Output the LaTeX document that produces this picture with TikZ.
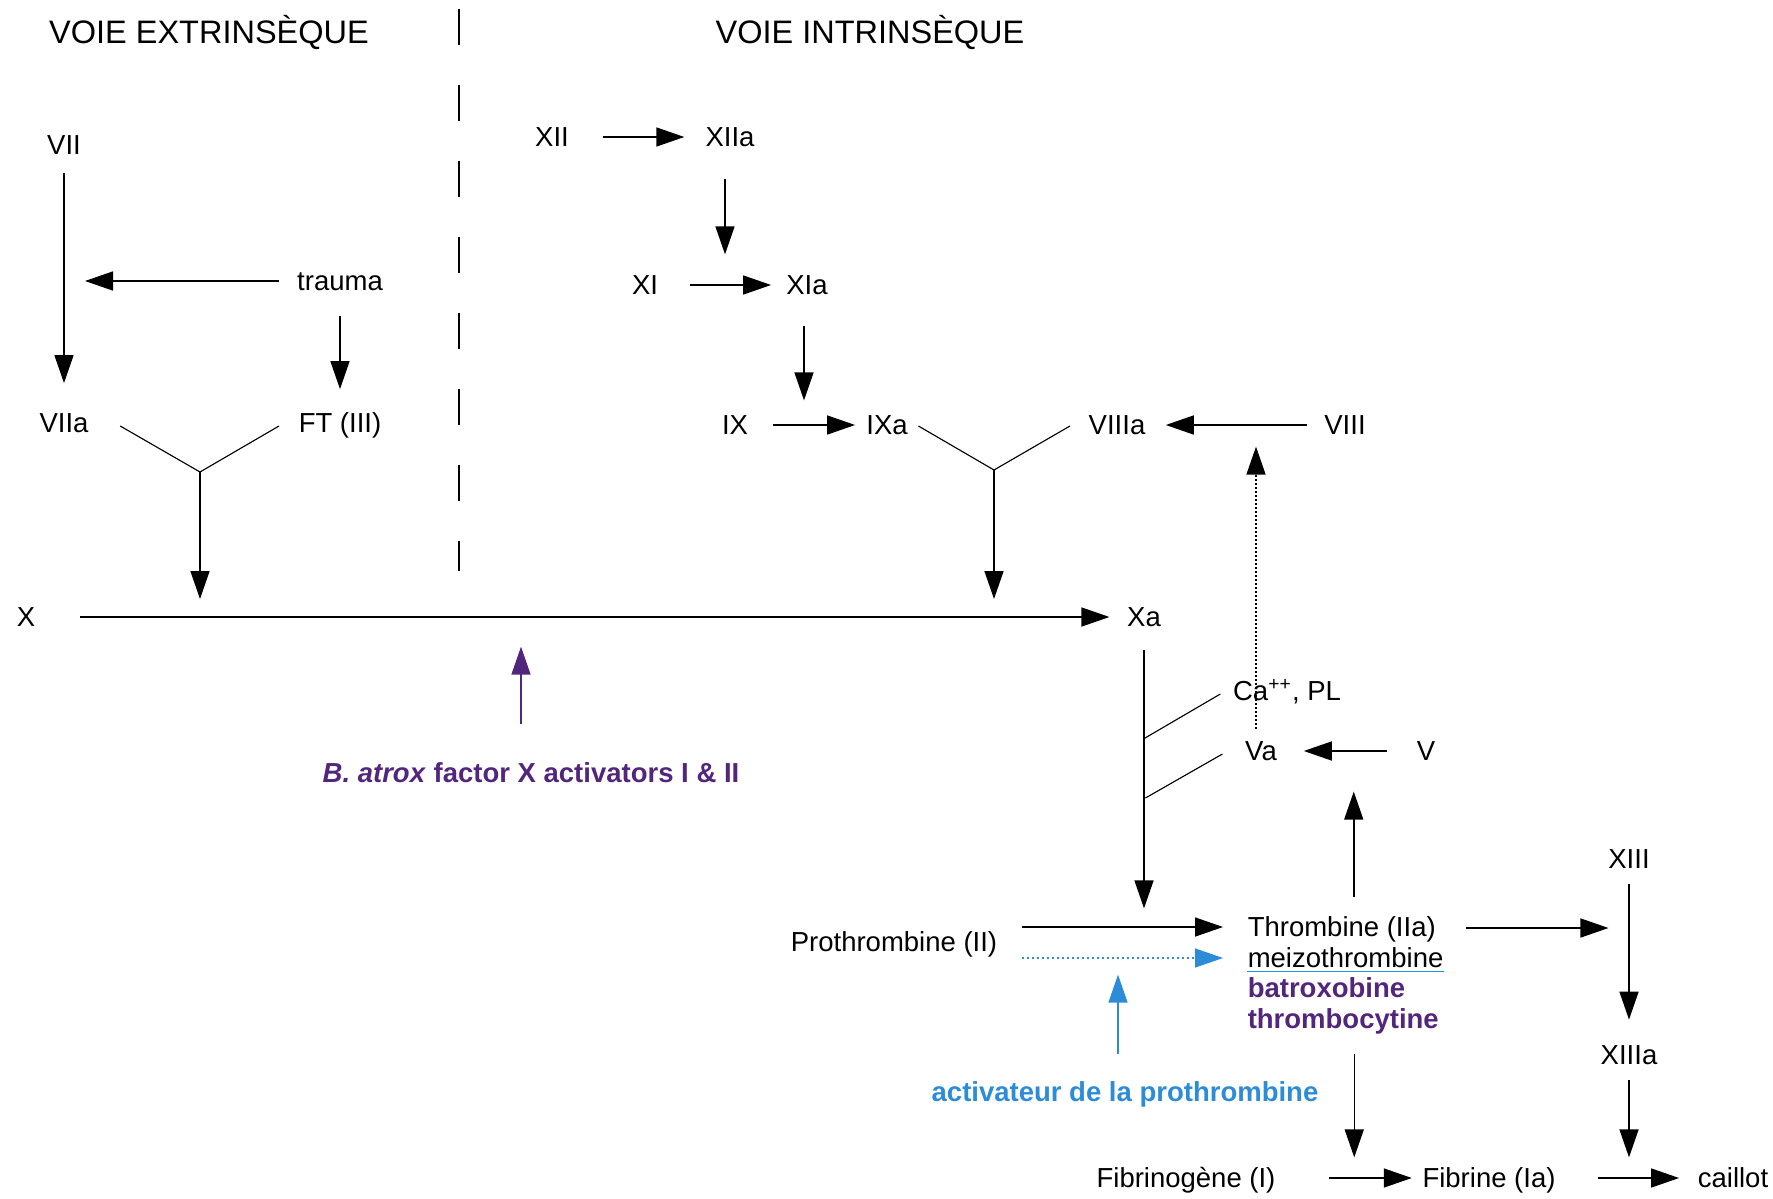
\documentclass[tikz,border=0pt]{standalone}
\usepackage{fontspec}
\setmainfont{Liberation Sans}
\usetikzlibrary{arrows.meta}
\definecolor{venompurple}{RGB}{82,38,125}
\definecolor{venomblue}{RGB}{45,140,215}
\tikzset{every picture/.style={line width=0.6pt},
  fac/.style={inner sep=0pt, font=\fontsize{11}{13}\selectfont, text height=9pt, text depth=1.1pt},
  toxin/.style={fac, font=\fontsize{11}{13}\selectfont\bfseries, text=venompurple},
  voie/.style={inner sep=0pt, font=\fontsize{13}{15}\selectfont, text height=10.6pt, text depth=1.3pt},
  arr/.style={-{Triangle[length=11.2pt,width=7.6pt]}},
  fork/.style={line width=0.45pt}}
\begin{document}
\begin{tikzpicture}[x=0.4pt,y=0.4pt,yscale=-1,xscale=1]
\useasboundingbox (0,0) rectangle (1773,1199);

% Text Node: titles
\node[voie] (extr) at (209,32) {VOIE EXTRINSÈQUE};
\node[voie] (intr) at (870,32) {VOIE INTRINSÈQUE};
% Dashed divider
\draw[dash pattern=on 14.4pt off 16pt, line width=0.5pt] (459,9) -- (459,571);

% Extrinsic path
\node[fac] (VII) at (64,145) {VII};
\node[fac] (trauma) at (340,281) {trauma};
\node[fac] (VIIa) at (64,423) {VIIa};
\node[fac] (FT) at (340,423) {FT (III)};
\coordinate (tl) at (85,281);
\coordinate (j1) at (200,472);
\draw[arr, shorten <=5.8pt, shorten >=10.6pt] (VII) -- (VIIa);
\draw[arr, shorten <=7pt] (trauma) -- (tl);
\draw[arr, shorten <=8.6pt, shorten >=8.2pt] (trauma) -- (FT);
\draw[fork] (VIIa.east) ++(31,3) -- (j1);
\draw[fork] (FT.west) ++(-19,3) -- (j1);
\draw[arr] (j1) -- ++(0,127);

% X -> Xa
\node[fac] (X) at (26,617) {X};
\node[fac] (Xa) at (1144,617) {Xa};
\draw[arr, shorten <=17.6pt, shorten >=6.8pt] (X) -- (Xa);

% Intrinsic path
\node[fac] (XII) at (552,137) {XII};
\node[fac] (XIIa) at (730,137) {XIIa};
\node[fac] (XI) at (645,285) {XI};
\node[fac] (XIa) at (807,285) {XIa};
\node[fac] (IX) at (735,425) {IX};
\node[fac] (IXa) at (887,425) {IXa};
\node[fac] (VIIIa) at (1117,425) {VIIIa};
\node[fac] (VIII) at (1345,425) {VIII};
\coordinate (j2) at (994,470);
\draw[arr, shorten <=13.2pt, shorten >=8.2pt] (XII) -- (XIIa);
\draw[arr] (XIIa.south) ++(-5,29) -- ++(0,75);
\draw[arr, shorten <=12.4pt, shorten >=5.8pt] (XI) -- (XIa);
\draw[arr] (XIa.south) ++(-3,28) -- ++(0,74);
\draw[arr, shorten <=9.6pt, shorten >=4.2pt] (IX) -- (IXa);
\draw[fork] (IXa.east) ++(10,1) -- (j2);
\draw[fork] (VIIIa.west) ++(-18,1) -- (j2);
\draw[arr] (j2) -- ++(0,129);
\draw[arr, shorten <=6.6pt, shorten >=7.9pt] (VIII) -- (VIIIa);

% Xa, cofactors
\node[fac] (Ca) at (1287,691) {Ca\textsuperscript{++}, PL};
\node[fac] (Va) at (1261,751) {Va};
\node[fac] (V) at (1426,751) {V};
\draw[arr, densely dotted] (Va.north) ++(-5,-9) -- ++(0,-282);
\draw[arr] (Xa.south) ++(0,20) -- ++(0,258);
\draw[fork] (Ca.west) ++(-12,3) -- ++(-77,45);
\draw[fork] (Va.west) ++(-22,3) -- ++(-77,44);
\draw[arr, shorten <=11.6pt, shorten >=10.5pt] (V) -- (Va);

% Prothrombin -> thrombin
\node[fac] (proth) at (894,942) {Prothrombine (II)};
\node[fac, anchor=west] (thr) at (1247,927) {Thrombine (IIa)};
\node[fac, anchor=west] (meizo) at (1247,958) {meizothrombine};
\node[toxin, anchor=west] (batro) at (1247,988) {batroxobine};
\node[toxin, anchor=west] (throc) at (1247,1019) {thrombocytine};
\node[toxin, text=venomblue] (act) at (1125,1092) {activateur de la prothrombine};
\draw[arr, shorten <=9.6pt, shorten >=9.6pt] (proth.east |- thr.west) -- (thr.west);
\draw[arr, venomblue, dash pattern=on 1pt off 1pt, shorten <=9.6pt, shorten >=9.6pt] (proth.east |- meizo.west) -- (meizo.west);
\draw[venomblue, line width=0.7pt] (meizo.south west) -- (meizo.south east);
\draw[arr, venomblue] (act.north) ++(-7,-25) -- ++(0,-79);
\draw[arr] (thr.north) ++(12,-17) -- ++(0,-105);
\draw[arr] (throc.south) ++(11,22) -- ++(0,103);

% Fibrin, XIII
\node[fac] (fibg) at (1186,1178) {Fibrinogène (I)};
\node[fac] (fib) at (1489,1178) {Fibrine (Ia)};
\node[fac] (caillot) at (1733,1178) {caillot};
\node[fac] (XIII) at (1629,859) {XIII};
\node[fac] (XIIIa) at (1629,1055) {XIIIa};
\draw[arr, shorten <=21pt, shorten >=4pt] (fibg) -- (fib);
\draw[arr, shorten <=16.8pt, shorten >=7.2pt] (fib) -- (caillot);
\draw[arr] (thr.east) ++(30,1) -- ++(142,0);
\draw[arr, shorten <=4.8pt, shorten >=8.8pt] (XIII) -- (XIIIa);
\draw[arr] (XIIIa.south) ++(0,12) -- ++(0,77);

% B. atrox activators
\node[toxin] (atrox) at (531,773) {\textit{B. atrox} factor X activators I \& II};
\draw[arr, venompurple] (atrox.north) ++(-10,-36) -- ++(0,-77);
\end{tikzpicture}
\end{document}
